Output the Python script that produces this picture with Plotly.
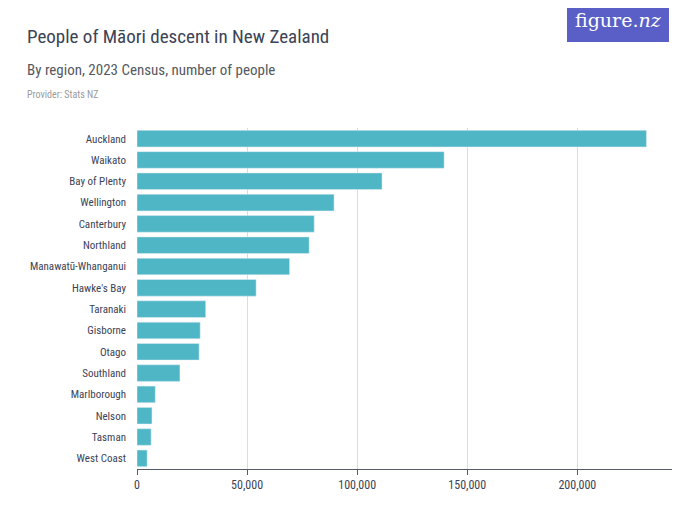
import plotly.graph_objects as go

regions = ['Auckland', 'Waikato', 'Bay of Plenty', 'Wellington', 'Canterbury', 'Northland',
           'Manawatū-Whanganui', "Hawke's Bay", 'Taranaki', 'Gisborne', 'Otago', 'Southland',
           'Marlborough', 'Nelson', 'Tasman', 'West Coast']
people = [231400, 139500, 111300, 89500, 80500, 78200, 69300, 54100, 31200, 28700, 28200, 19500,
          8300, 6800, 6400, 4600]
tick_vals = [0, 50000, 100000, 150000, 200000]
tick_text = ['0', '50,000', '100,000', '150,000', '200,000']

FONT = 'Roboto Condensed, Liberation Sans Narrow, Roboto, sans-serif'
OFF = 8  # page body margin
W, H = 700 - OFF, 525 - OFF
L, R, T, B = 137 - OFF, 28, 128 - OFF, 56
PW, PH = W - L - R, H - T - B

def px_x(x):
    return (x - OFF - L) / PW

def px_y(y):
    return 1 - (y - OFF - T) / PH

fig = go.Figure(go.Bar(
    x=people, y=regions, orientation='h',
    marker=dict(color='#4fb6c6'), width=0.78,
))

fig.update_layout(
    width=W, height=H, autosize=False,
    margin=dict(l=L, r=R, t=T, b=B, pad=0),
    plot_bgcolor='white', paper_bgcolor='white',
    showlegend=False,
    font=dict(family=FONT, color='#3b4356', size=11),
)
fig.update_yaxes(autorange='reversed', showgrid=False, ticks='', ticklabelstandoff=10,
                 automargin=False, tickfont=dict(size=11, color='#3b4356', family=FONT))
fig.update_xaxes(range=[0, 243000], tickvals=tick_vals, ticktext=tick_text,
                 showgrid=True, gridcolor='#dcdcdc', gridwidth=1,
                 showline=True, linecolor='#555a66', linewidth=1, ticks='outside',
                 ticklen=5, tickcolor='#555a66', zeroline=False, automargin=False,
                 tickfont=dict(size=12, color='#3b4356', family=FONT))

fig.add_annotation(text='People of Māori descent in New Zealand', xref='paper', yref='paper',
                   x=px_x(25), y=px_y(36), xanchor='left', yanchor='middle', showarrow=False,
                   font=dict(size=19, color='#3b4356', family=FONT))
fig.add_annotation(text='By region, 2023 Census, number of people', xref='paper', yref='paper',
                   x=px_x(25), y=px_y(70), xanchor='left', yanchor='middle', showarrow=False,
                   font=dict(size=15, color='#55595f', family=FONT))
fig.add_annotation(text='Provider: Stats NZ', xref='paper', yref='paper',
                   x=px_x(25), y=px_y(94), xanchor='left', yanchor='middle', showarrow=False,
                   font=dict(size=10, color='#9a9a9a', family=FONT))

# figure.nz logo box
fig.add_shape(type='rect', xref='paper', yref='paper',
              x0=px_x(567), x1=px_x(669), y0=px_y(42), y1=px_y(0),
              fillcolor='#5a5fc8', line=dict(width=0))
fig.add_annotation(text='figure.<i>nz</i>', xref='paper', yref='paper',
                   x=px_x(618), y=px_y(20), xanchor='center', yanchor='middle',
                   showarrow=False, font=dict(size=19, color='white', family='DejaVu Serif, serif'))

fig.write_html('out.html')
